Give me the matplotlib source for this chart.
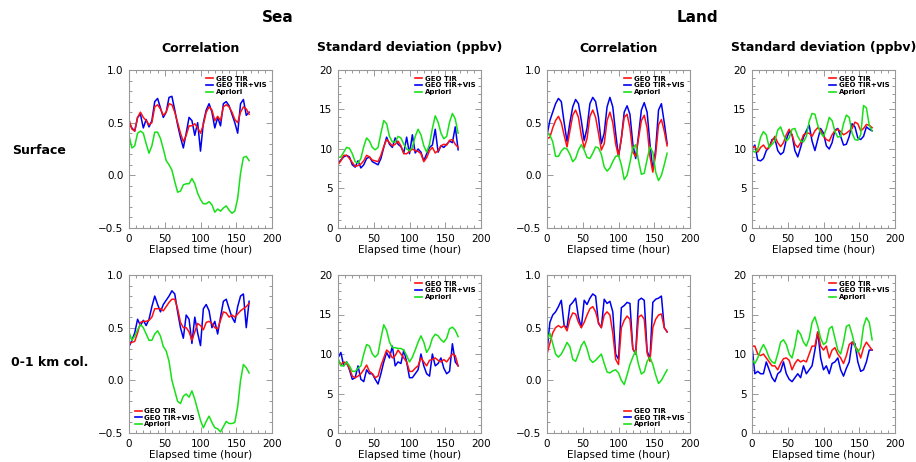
import matplotlib

matplotlib.use("Agg")
import matplotlib.pyplot as plt
import numpy as np
from matplotlib.lines import Line2D
from matplotlib.ticker import MultipleLocator

# elapsed time samples (hours)
hours = np.arange(0, 169, 4)

# --- Sea, surface ---
sea_sfc_corr_tir = [0.53, 0.44, 0.42, 0.55, 0.60, 0.55, 0.52, 0.48, 0.50, 0.65, 0.67, 0.63, 0.57, 0.60, 0.68,
                    0.67, 0.60, 0.50, 0.40, 0.32, 0.38, 0.47, 0.47, 0.49, 0.45, 0.40, 0.48, 0.60, 0.65, 0.62,
                    0.52, 0.56, 0.52, 0.65, 0.67, 0.65, 0.60, 0.53, 0.50, 0.60, 0.65, 0.63, 0.58]
sea_sfc_corr_vis = [0.50, 0.45, 0.42, 0.55, 0.58, 0.45, 0.53, 0.46, 0.52, 0.70, 0.73, 0.64, 0.55, 0.60, 0.74,
                    0.75, 0.62, 0.48, 0.36, 0.26, 0.40, 0.55, 0.52, 0.38, 0.50, 0.23, 0.50, 0.62, 0.68, 0.60,
                    0.45, 0.55, 0.47, 0.68, 0.70, 0.66, 0.58, 0.50, 0.40, 0.68, 0.72, 0.57, 0.60]
sea_sfc_corr_apr = [0.38, 0.26, 0.28, 0.40, 0.42, 0.40, 0.30, 0.21, 0.28, 0.41, 0.41, 0.35, 0.25, 0.14, 0.10,
                    0.05, -0.06, -0.16, -0.15, -0.09, -0.08, -0.08, -0.03, -0.08, -0.17, -0.23, -0.27, -0.27,
                    -0.25, -0.28, -0.35, -0.32, -0.34, -0.31, -0.29, -0.33, -0.36, -0.34, -0.22, 0.02, 0.17,
                    0.18, 0.14]
sea_sfc_std_tir = [8.0, 8.5, 9.2, 9.2, 8.8, 8.3, 7.8, 7.9, 8.1, 8.5, 9.2, 9.0, 8.6, 8.5, 8.4, 9.2, 10.3, 11.2,
                   10.8, 10.4, 10.6, 11.0, 10.4, 9.4, 9.4, 9.7, 10.0, 9.8, 9.7, 9.4, 8.4, 8.9, 9.8, 10.2, 9.5,
                   9.8, 10.4, 10.6, 10.5, 11.1, 11.2, 10.6, 10.2]
sea_sfc_std_vis = [8.2, 8.6, 9.0, 9.2, 9.0, 8.0, 7.7, 8.5, 7.6, 8.0, 8.8, 9.0, 8.4, 8.2, 8.0, 8.8, 10.2, 11.5,
                   10.6, 10.2, 11.4, 10.6, 10.3, 9.5, 11.5, 9.4, 11.8, 9.5, 10.0, 9.6, 8.5, 9.4, 10.2, 10.5,
                   12.5, 9.6, 10.4, 10.2, 10.6, 11.0, 10.8, 12.8, 9.9]
sea_sfc_std_apr = [8.9, 9.0, 9.6, 10.2, 10.1, 9.4, 8.4, 8.2, 8.8, 10.3, 11.4, 11.0, 10.2, 9.9, 10.2, 12.0,
                   13.6, 13.2, 11.6, 10.9, 10.9, 11.6, 11.4, 10.6, 10.0, 9.8, 10.2, 11.6, 12.5, 11.8, 10.4,
                   9.6, 10.6, 12.6, 14.2, 13.4, 12.0, 11.3, 11.6, 13.4, 14.5, 13.8, 12.0]

# --- Land, surface ---
land_sfc_corr_tir = [0.35, 0.36, 0.45, 0.52, 0.56, 0.50, 0.38, 0.27, 0.42, 0.57, 0.62, 0.55, 0.38, 0.26, 0.35,
                     0.56, 0.62, 0.55, 0.40, 0.24, 0.30, 0.52, 0.60, 0.50, 0.30, 0.18, 0.35, 0.55, 0.58, 0.45,
                     0.22, 0.18, 0.35, 0.52, 0.57, 0.45, 0.18, 0.03, 0.20, 0.48, 0.53, 0.42, 0.28]
land_sfc_corr_vis = [0.38, 0.52, 0.60, 0.68, 0.73, 0.70, 0.50, 0.32, 0.50, 0.65, 0.72, 0.68, 0.52, 0.33, 0.45,
                     0.68, 0.74, 0.70, 0.55, 0.30, 0.40, 0.65, 0.74, 0.65, 0.40, 0.18, 0.35, 0.60, 0.66, 0.58,
                     0.30, 0.16, 0.38, 0.62, 0.69, 0.60, 0.30, 0.05, 0.25, 0.62, 0.68, 0.50, 0.30]
land_sfc_corr_apr = [0.40, 0.38, 0.32, 0.18, 0.18, 0.23, 0.26, 0.25, 0.20, 0.13, 0.16, 0.24, 0.29, 0.24, 0.17,
                     0.16, 0.21, 0.27, 0.26, 0.20, 0.08, 0.04, 0.07, 0.13, 0.18, 0.19, 0.10, -0.04, 0.00, 0.12,
                     0.26, 0.29, 0.14, 0.01, 0.02, 0.15, 0.27, 0.22, 0.03, -0.05, 0.00, 0.10, 0.21]
land_sfc_std_tir = [10.2, 10.3, 9.6, 10.2, 10.5, 10.0, 10.2, 11.0, 11.6, 10.8, 10.3, 10.8, 11.8, 12.5, 11.8,
                    10.6, 10.2, 10.8, 11.8, 12.0, 12.0, 11.6, 12.3, 12.7, 12.4, 11.6, 11.2, 11.0, 11.8, 12.3,
                    12.5, 12.2, 11.8, 12.0, 12.3, 12.6, 13.4, 13.2, 12.3, 12.6, 13.1, 13.0, 12.7]
land_sfc_std_vis = [10.0, 10.5, 8.6, 8.5, 8.8, 9.8, 10.2, 11.2, 11.3, 9.8, 9.3, 9.6, 11.2, 12.2, 11.8, 9.8,
                    9.0, 10.2, 11.5, 12.3, 13.0, 11.0, 9.8, 11.2, 12.6, 12.0, 10.4, 10.0, 10.8, 12.4, 12.6,
                    11.6, 10.5, 10.6, 11.6, 13.2, 12.8, 11.4, 11.2, 11.6, 12.8, 12.5, 12.3]
land_sfc_std_apr = [9.8, 9.6, 10.0, 11.5, 12.2, 11.8, 10.2, 10.6, 11.0, 12.4, 12.8, 11.8, 11.0, 11.4, 12.5,
                    12.6, 11.6, 11.0, 10.9, 11.6, 13.5, 14.5, 14.4, 13.0, 12.0, 11.6, 12.6, 14.0, 13.6, 12.2,
                    11.5, 11.6, 13.2, 14.3, 14.0, 12.0, 11.2, 11.1, 11.8, 15.5, 15.2, 13.0, 12.3]

# --- Sea, 0-1 km column ---
sea_col_corr_tir = [0.35, 0.36, 0.37, 0.45, 0.55, 0.56, 0.56, 0.57, 0.60, 0.68, 0.68, 0.68, 0.66, 0.70, 0.74,
                    0.77, 0.77, 0.68, 0.55, 0.50, 0.50, 0.46, 0.38, 0.46, 0.54, 0.52, 0.48, 0.55, 0.56, 0.54,
                    0.50, 0.49, 0.57, 0.65, 0.64, 0.60, 0.62, 0.60, 0.63, 0.66, 0.68, 0.70, 0.73]
sea_col_corr_vis = [0.32, 0.38, 0.45, 0.58, 0.52, 0.57, 0.52, 0.58, 0.70, 0.80, 0.72, 0.65, 0.72, 0.76, 0.80,
                    0.85, 0.82, 0.65, 0.50, 0.40, 0.62, 0.58, 0.35, 0.60, 0.45, 0.33, 0.68, 0.72, 0.66, 0.50,
                    0.56, 0.44, 0.60, 0.75, 0.77, 0.68, 0.60, 0.55, 0.70, 0.80, 0.82, 0.50, 0.75]
sea_col_corr_apr = [0.46, 0.38, 0.42, 0.48, 0.53, 0.50, 0.44, 0.38, 0.38, 0.44, 0.47, 0.42, 0.32, 0.28, 0.18,
                    0.00, -0.10, -0.20, -0.22, -0.15, -0.13, -0.16, -0.10, -0.18, -0.28, -0.38, -0.45, -0.39,
                    -0.34, -0.40, -0.45, -0.46, -0.49, -0.44, -0.39, -0.41, -0.41, -0.40, -0.25, 0.00, 0.15,
                    0.12, 0.07]
sea_col_std_tir = [9.3, 8.6, 9.0, 8.8, 8.2, 7.2, 7.0, 7.2, 7.5, 8.0, 8.6, 7.8, 7.5, 7.0, 7.2, 8.5, 9.5, 10.5,
                   10.2, 9.5, 9.8, 10.5, 10.0, 9.5, 9.0, 7.8, 7.8, 8.2, 8.5, 9.5, 9.0, 8.5, 9.2, 9.3, 9.5,
                   9.2, 9.0, 9.3, 9.0, 9.5, 10.0, 9.8, 8.5]
sea_col_std_vis = [9.5, 10.2, 8.5, 9.0, 8.0, 6.8, 7.0, 8.5, 6.8, 6.5, 8.0, 7.5, 7.5, 6.8, 6.2, 7.5, 9.0, 10.2,
                   9.5, 11.0, 8.5, 9.0, 8.8, 10.5, 9.0, 7.0, 7.0, 7.5, 8.0, 10.0, 8.5, 7.5, 7.2, 10.0, 8.5,
                   8.8, 9.5, 8.2, 7.5, 7.8, 11.3, 9.0, 8.5]
sea_col_std_apr = [9.5, 8.5, 8.5, 9.0, 8.5, 7.8, 7.8, 8.2, 8.5, 10.0, 11.2, 11.0, 10.0, 9.6, 10.0, 12.0, 13.7,
                   13.0, 11.5, 10.8, 10.8, 10.7, 10.7, 10.5, 9.8, 9.0, 9.6, 10.5, 11.5, 12.3, 11.5, 10.2,
                   10.8, 12.0, 12.5, 12.3, 11.8, 11.5, 12.0, 13.2, 13.4, 13.0, 12.2]

# --- Land, 0-1 km column ---
land_col_corr_tir = [0.25, 0.35, 0.45, 0.50, 0.52, 0.50, 0.52, 0.47, 0.58, 0.64, 0.63, 0.55, 0.50, 0.55, 0.62,
                     0.68, 0.70, 0.65, 0.55, 0.50, 0.62, 0.65, 0.62, 0.45, 0.20, 0.15, 0.50, 0.57, 0.61, 0.58,
                     0.30, 0.25, 0.60, 0.62, 0.58, 0.26, 0.18, 0.50, 0.58, 0.62, 0.63, 0.50, 0.46]
land_col_corr_vis = [0.27, 0.55, 0.62, 0.65, 0.70, 0.76, 0.52, 0.50, 0.71, 0.74, 0.78, 0.60, 0.50, 0.76, 0.72,
                     0.78, 0.82, 0.80, 0.54, 0.50, 0.77, 0.73, 0.75, 0.65, 0.25, 0.20, 0.69, 0.71, 0.74, 0.73,
                     0.30, 0.25, 0.76, 0.78, 0.76, 0.28, 0.20, 0.74, 0.77, 0.78, 0.80, 0.50, 0.46]
land_col_corr_apr = [0.38, 0.45, 0.35, 0.25, 0.22, 0.25, 0.30, 0.36, 0.32, 0.20, 0.18, 0.25, 0.33, 0.37, 0.30,
                     0.20, 0.17, 0.19, 0.22, 0.25, 0.16, 0.08, 0.07, 0.09, 0.10, 0.07, 0.00, -0.04, 0.05, 0.15,
                     0.22, 0.28, 0.15, 0.06, 0.08, 0.18, 0.22, 0.15, 0.05, -0.03, 0.00, 0.05, 0.10]
land_col_std_tir = [11.0, 11.0, 10.0, 9.8, 10.0, 9.5, 9.0, 8.5, 8.5, 8.0, 8.8, 9.4, 9.5, 9.2, 8.0, 8.8, 9.3,
                    9.0, 9.2, 9.0, 10.0, 11.0, 11.0, 12.8, 11.0, 10.5, 11.0, 9.5, 10.5, 10.8, 10.0, 9.5, 8.8,
                    9.8, 11.2, 11.5, 11.0, 10.5, 9.5, 10.8, 11.5, 11.0, 10.5]
land_col_std_vis = [11.0, 7.5, 7.8, 7.5, 7.5, 9.0, 8.0, 7.0, 6.5, 7.5, 7.8, 9.0, 7.5, 6.8, 6.5, 7.0, 7.5, 7.0,
                    8.5, 7.5, 8.0, 8.5, 10.5, 12.8, 9.5, 8.0, 8.5, 7.5, 8.8, 9.0, 9.5, 8.0, 7.2, 8.2, 9.0,
                    11.5, 11.3, 9.0, 7.8, 8.0, 9.0, 10.5, 10.5]
land_col_std_apr = [9.3, 8.8, 9.5, 10.5, 11.2, 10.5, 9.5, 9.0, 8.8, 10.0, 11.5, 11.8, 11.2, 10.0, 9.5, 11.0,
                    13.0, 12.5, 11.5, 11.0, 12.0, 14.0, 14.7, 13.5, 12.0, 11.2, 11.5, 13.2, 13.5, 12.0, 10.5,
                    10.0, 11.5, 13.5, 13.7, 12.5, 11.0, 10.2, 10.8, 13.5, 14.6, 14.0, 11.8]

series_labels = ["GEO TIR", "GEO TIR+VIS", "Apriori"]
series_colors = ["#ff1010", "#0000f0", "#18e018"]

col_titles = ["Correlation", "Standard deviation (ppbv)", "Correlation", "Standard deviation (ppbv)"]
row_labels = ["Surface", "0-1 km col."]

panels = [
    [(sea_sfc_corr_tir, sea_sfc_corr_vis, sea_sfc_corr_apr),
     (sea_sfc_std_tir, sea_sfc_std_vis, sea_sfc_std_apr),
     (land_sfc_corr_tir, land_sfc_corr_vis, land_sfc_corr_apr),
     (land_sfc_std_tir, land_sfc_std_vis, land_sfc_std_apr)],
    [(sea_col_corr_tir, sea_col_corr_vis, sea_col_corr_apr),
     (sea_col_std_tir, sea_col_std_vis, sea_col_std_apr),
     (land_col_corr_tir, land_col_corr_vis, land_col_corr_apr),
     (land_col_std_tir, land_col_std_vis, land_col_std_apr)],
]
legend_locs = [["upper right"] * 4,
               ["lower left", "upper right", "lower right", "upper right"]]

W, H = 916, 462
fig = plt.figure(figsize=(W / 100, H / 100), dpi=100)

col_left = [129, 338, 547, 752]
row_top = [70, 275]
ax_w, ax_h = 143, 158

handles = [Line2D([0], [0], color=c, lw=1.2) for c in series_colors]

for r in range(2):
    for c in range(4):
        ax = fig.add_axes([col_left[c] / W, 1 - (row_top[r] + ax_h) / H, ax_w / W, ax_h / H])
        tir, vis, apr = panels[r][c]
        # blue underneath, red over it, a priori on top
        ax.plot(hours, vis, color=series_colors[1], lw=1.1)
        ax.plot(hours, tir, color=series_colors[0], lw=1.1)
        ax.plot(hours, apr, color=series_colors[2], lw=1.1)

        ax.set_xlim(0, 200)
        ax.xaxis.set_major_locator(MultipleLocator(50))
        ax.xaxis.set_minor_locator(MultipleLocator(10))
        if c % 2 == 0:
            ax.set_ylim(-0.5, 1.0)
            ax.yaxis.set_major_locator(MultipleLocator(0.5))
            ax.yaxis.set_minor_locator(MultipleLocator(0.1))
            ax.yaxis.set_major_formatter(plt.FuncFormatter(lambda v, p: f"{v:.1f}".replace("-", "\u2212")))
        else:
            ax.set_ylim(0, 20)
            ax.yaxis.set_major_locator(MultipleLocator(5))
            ax.yaxis.set_minor_locator(MultipleLocator(1))

        ax.tick_params(which="both", direction="in", top=True, right=True,
                       colors="#888888", labelcolor="black", labelsize=7.5, width=0.6)
        ax.tick_params(which="major", length=4, pad=4)
        ax.tick_params(which="minor", length=2)
        for sp in ax.spines.values():
            sp.set_color("#999999")
            sp.set_linewidth(0.8)
        ax.set_xlabel("Elapsed time (hour)", fontsize=7.5, labelpad=1)

        ax.legend(handles, series_labels, loc=legend_locs[r][c], frameon=False,
                  prop={"size": 5, "weight": "bold"}, handlelength=1.0,
                  handletextpad=0.4, labelspacing=0.1, borderaxespad=0.4)

        if r == 0:
            fig.text((col_left[c] + ax_w / 2) / W, 1 - 48 / H, col_titles[c],
                     ha="center", va="center", fontsize=9, fontweight="bold")

fig.text(278 / W, 1 - 17 / H, "Sea", ha="center", va="center", fontsize=11, fontweight="bold")
fig.text(697 / W, 1 - 17 / H, "Land", ha="center", va="center", fontsize=11, fontweight="bold")
fig.text(12 / W, 1 - 150 / H, row_labels[0], ha="left", va="center", fontsize=9, fontweight="bold")
fig.text(11 / W, 1 - 362 / H, row_labels[1], ha="left", va="center", fontsize=9, fontweight="bold")

fig.savefig("out.png", dpi=100)
